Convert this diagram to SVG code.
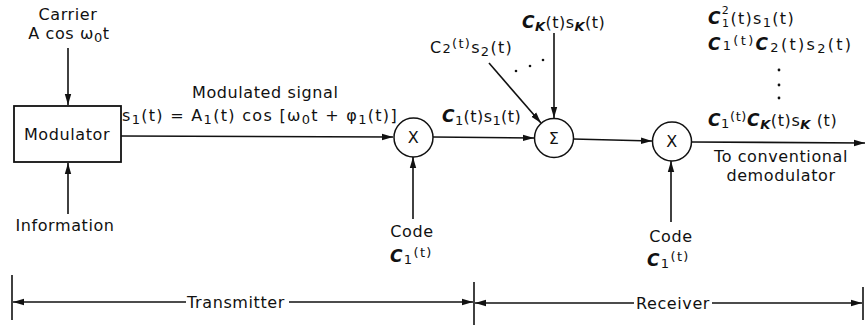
<svg xmlns="http://www.w3.org/2000/svg" width="866" height="333" viewBox="0 0 866 333">
<style>
text{font-family:"DejaVu Sans","Liberation Sans",sans-serif;font-size:16px;fill:#111;letter-spacing:0.6px}
.c{text-anchor:middle}
.m{letter-spacing:1.3px}
.w{letter-spacing:2.3px}
.ln{stroke:#111;stroke-width:1.6;fill:none}
.box{stroke:#111;stroke-width:1.8;fill:#fff}
.cir{stroke:#111;stroke-width:1.5;fill:#fff}
.it{font-style:italic;font-weight:bold;font-size:17px}
.sm{font-size:13px}
.xs{font-size:11px}
</style>
<defs>
<marker id="ah" markerUnits="userSpaceOnUse" markerWidth="12" markerHeight="8" refX="11" refY="4" orient="auto">
<path d="M0,0.8 L11,4 L0,7.2 Z" fill="#111"/>
</marker>
</defs>

<g id="connectors">
<line class="ln" x1="68" y1="48" x2="68" y2="105" marker-end="url(#ah)"/>
<line class="ln" x1="68" y1="214" x2="68" y2="163" marker-end="url(#ah)"/>
<line class="ln" x1="121" y1="136" x2="393" y2="137" marker-end="url(#ah)"/>
<line class="ln" x1="413" y1="219" x2="413" y2="157" marker-end="url(#ah)"/>
<line class="ln" x1="433" y1="137" x2="534" y2="138" marker-end="url(#ah)"/>
<line class="ln" x1="489" y1="63" x2="541" y2="123" marker-end="url(#ah)"/>
<line class="ln" x1="554" y1="33" x2="554" y2="118" marker-end="url(#ah)"/>
<line class="ln" x1="573" y1="139" x2="652" y2="141" marker-end="url(#ah)"/>
<line class="ln" x1="671" y1="222" x2="671" y2="161" marker-end="url(#ah)"/>
<line class="ln" x1="691" y1="142" x2="865" y2="143" marker-end="url(#ah)"/>
</g>

<g id="modulator">
<rect class="box" x="14" y="106" width="107" height="56"/>
<text class="c" x="67" y="140">Modulator</text>
</g>
<g id="carrier">
<text class="c" x="68" y="20">Carrier</text>
<text class="c" x="69" y="39">A cos ω<tspan class="sm" dy="3">0</tspan><tspan dy="-3">t</tspan></text>
</g>
<g id="information">
<text class="c" x="65" y="231">Information</text>
</g>
<g id="modulated-signal">
<text x="192" y="98">Modulated signal</text>
<text class="m" x="122" y="121">s<tspan class="sm" dy="3">1</tspan><tspan dy="-3">(t) = A</tspan><tspan class="sm" dy="3">1</tspan><tspan dy="-3">(t) cos [ω</tspan><tspan class="sm" dy="3">0</tspan><tspan dy="-3">t + φ</tspan><tspan class="sm" dy="3">1</tspan><tspan dy="-3">(t)]</tspan></text>
</g>
<g id="mult1">
<circle class="cir" cx="413.5" cy="137.5" r="19.5"/>
<text class="c" x="413.5" y="143">X</text>
</g>
<g id="code1">
<text class="c" x="412" y="237">Code</text>
<text x="390" y="262" textLength="42" lengthAdjust="spacing"><tspan class="it">C</tspan><tspan class="sm" dy="2">1</tspan><tspan class="sm" dy="-7">(t)</tspan></text>
</g>
<g id="label-c1s1">
<text class="m" x="442" y="122" textLength="80" lengthAdjust="spacing"><tspan class="it">C</tspan><tspan class="sm" dy="3">1</tspan><tspan dy="-3">(t)s</tspan><tspan class="sm" dy="3">1</tspan><tspan dy="-3">(t)</tspan></text>
</g>
<g id="label-c2s2">
<text class="m" x="430" y="53">C<tspan class="sm">2</tspan><tspan class="sm" dy="-5">(t)</tspan><tspan dy="5">s</tspan><tspan class="sm" dy="3">2</tspan><tspan dy="-3">(t)</tspan></text>
<circle cx="516" cy="71" r="1.3" fill="#111"/>
<circle cx="530" cy="66" r="1.3" fill="#111"/>
<circle cx="543" cy="60" r="1.3" fill="#111"/>
</g>
<g id="label-cksk">
<text class="m" x="522" y="28" textLength="84" lengthAdjust="spacing"><tspan class="it">C</tspan><tspan class="sm it" dy="3">K</tspan><tspan dy="-3">(t)s</tspan><tspan class="sm it" dy="3">K</tspan><tspan dy="-3">(t)</tspan></text>
</g>
<g id="sum">
<circle class="cir" cx="554" cy="138" r="19.5"/>
<text class="c" x="554" y="144">Σ</text>
</g>
<g id="mult2">
<circle class="cir" cx="672" cy="141.5" r="19.5"/>
<text class="c" x="672" y="147">X</text>
</g>
<g id="code2">
<text class="c" x="671" y="242">Code</text>
<text x="647" y="266" textLength="42" lengthAdjust="spacing"><tspan class="it">C</tspan><tspan class="sm" dy="2">1</tspan><tspan class="sm" dy="-7">(t)</tspan></text>
</g>
<g id="outputs">
<text class="m" x="708" y="24"><tspan class="it">C</tspan><tspan class="xs" dy="-10">2</tspan><tspan class="xs" dx="-8" dy="13">1</tspan><tspan dy="-3">(t)s</tspan><tspan class="sm" dy="3">1</tspan><tspan dy="-3">(t)</tspan></text>
<text class="w" x="708" y="50"><tspan class="it">C</tspan><tspan class="sm">1</tspan><tspan class="sm" dy="-5">(t)</tspan><tspan class="it" dy="5">C</tspan><tspan class="sm" dy="2">2</tspan><tspan dy="-2">(t)s</tspan><tspan class="sm" dy="3">2</tspan><tspan dy="-3">(t)</tspan></text>
<circle cx="779" cy="70" r="1.4" fill="#111"/>
<circle cx="779" cy="85" r="1.4" fill="#111"/>
<circle cx="779" cy="98" r="1.4" fill="#111"/>
<text class="m" x="708" y="126" textLength="130" lengthAdjust="spacing"><tspan class="it">C</tspan><tspan class="sm" dy="2">1</tspan><tspan class="sm" dy="-7">(t)</tspan><tspan class="it" dy="5">C</tspan><tspan class="sm it" dy="3">K</tspan><tspan dy="-3">(t)s</tspan><tspan class="sm it" dy="3">K</tspan><tspan dy="-3"> (t)</tspan></text>
<text class="c" x="781" y="162">To conventional</text>
<text class="c" x="781" y="181">demodulator</text>
</g>
<g id="dimension">
<line class="ln" x1="12" y1="275" x2="12" y2="320"/>
<line class="ln" x1="474" y1="282" x2="474" y2="325"/>
<line class="ln" x1="863" y1="287" x2="863" y2="320"/>
<line class="ln" x1="186" y1="302" x2="13" y2="302" marker-end="url(#ah)"/>
<line class="ln" x1="289" y1="302" x2="473" y2="302" marker-end="url(#ah)"/>
<line class="ln" x1="634" y1="303" x2="475" y2="303" marker-end="url(#ah)"/>
<line class="ln" x1="712" y1="303" x2="862" y2="303" marker-end="url(#ah)"/>
<text class="c" x="236" y="308">Transmitter</text>
<text class="c" x="673" y="309">Receiver</text>
</g>
</svg>
